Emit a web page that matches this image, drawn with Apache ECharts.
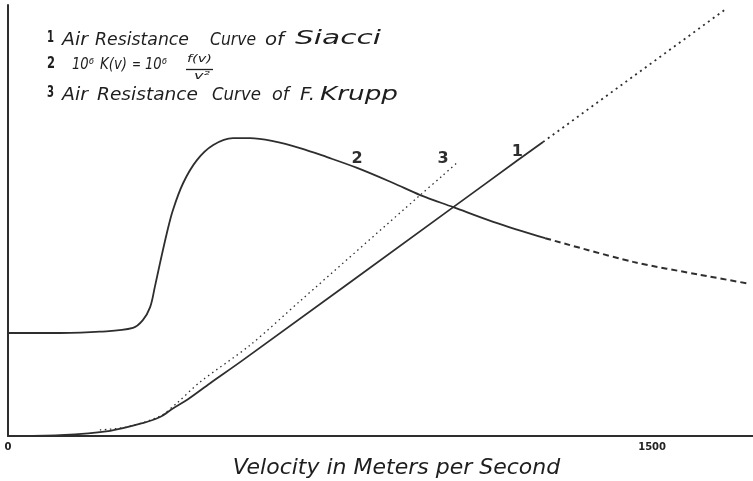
<!DOCTYPE html>
<html>
<head>
<meta charset="utf-8">
<script src="https://cdn.jsdelivr.net/npm/echarts@6/dist/echarts.min.js"></script>
<style>
  html, body { margin: 0; padding: 0; background: #fff; }
  #chart { width: 753px; height: 481px; }
</style>
</head>
<body>
<div id="chart"></div>
<script>
// Velocity (m/s) and relative ordinate (arbitrary units, 0-100)
const curve1Velocity = [0, 121, 238, 314, 354, 384, 420, 470, 547, 1037, 1186, 1246];
const curve1Values   = [0, 0.2, 1.2, 3.0, 4.4, 6.4, 8.6, 12.2, 17.6, 53.1, 63.9, 68.2];
const curve1ExtVelocity = [1246, 1675];
const curve1ExtValues   = [68.2, 99.3];
const curve1LabelIndex = 10;

const curve2Velocity = [0, 121, 214, 291, 314, 331, 342, 354, 370, 384, 408, 440, 478, 524, 564, 617, 680, 743, 813, 897, 960, 1037, 1130, 1251];
const curve2Values   = [23.9, 23.9, 24.2, 25.1, 26.9, 29.9, 34.6, 40.1, 47.1, 52.4, 58.7, 64.0, 67.5, 69.1, 69.1, 68.4, 66.8, 64.7, 62.2, 58.7, 55.9, 53.1, 49.7, 45.9];
const curve2ExtVelocity = [1251, 1456, 1612, 1728];
const curve2ExtValues   = [45.9, 40.4, 37.4, 35.3];
const curve2LabelIndex = 18;

const curve3Velocity = [214, 277, 354, 394, 447, 564, 680, 960, 1013, 1048];
const curve3Values   = [1.4, 2.1, 4.6, 7.7, 12.5, 21.1, 31.3, 55.9, 60.5, 63.6];
const curve3LabelIndex = 8;

const curveNames = ['1', '2', '3'];
const xTickLabels = ['0', '1500'];
const legendLine1Words = ['1', 'Air', 'Resistance', 'Curve', 'of', 'Siacci'];
const legendLine2Words = ['2', '10\u2076', 'K(v)', '=', '10\u2076'];
const legendLine3Words = ['3', 'Air', 'Resistance', 'Curve', 'of', 'F.', 'Krupp'];
const fractionTop = 'f(v)';
const fractionBottom = 'v\u00b2';
const xAxisTitle = 'Velocity in Meters per Second';

const ink = '#2e2e2e';
const textInk = '#1e1e1e';
const hand = '"DejaVu Sans", sans-serif';

function pairs(xs, ys, labelIdx, labelText, dist) {
  return xs.map((x, i) => {
    if (i === labelIdx) {
      return {
        value: [x, ys[i]],
        label: {
          show: true, formatter: labelText, position: 'top', distance: dist,
          fontFamily: hand, fontWeight: 'bold', fontSize: 16, color: ink
        }
      };
    }
    return [x, ys[i]];
  });
}

// hand-lettered legend: each word stretched to its span in the picture
const measureCtx = document.createElement('canvas').getContext('2d');
function word(text, x0, x1, top, font) {
  measureCtx.font = font;
  const w = measureCtx.measureText(text).width || 1;
  return {
    type: 'text', x: x0, y: top, scaleX: (x1 - x0) / w, scaleY: 1, silent: true,
    style: { text: text, font: font, fill: textInk, align: 'left', verticalAlign: 'top' }
  };
}
const bigFont = 'italic 18px ' + hand;
const wideFont = 'italic 20px ' + hand;
const numFont = 'bold 15px ' + hand;
const midFont = 'italic 16px ' + hand;
const smallFont = 'italic 11px ' + hand;

const line1Spans = [[47, 54], [62, 88], [95, 189], [210, 256], [265, 284], [295, 381]];
const line2Spans = [[47, 55], [72, 94], [100, 127], [132, 141], [145, 167]];
const line3Spans = [[47, 54], [62, 88], [97, 198], [212, 261], [272, 289], [300, 315], [320, 398]];

const graphics = [];
legendLine1Words.forEach((w, i) => graphics.push(
  word(w, line1Spans[i][0], line1Spans[i][1], i === 5 ? 29 : 31,
       i === 0 ? numFont : (i === 5 ? wideFont : bigFont))));
legendLine2Words.forEach((w, i) => graphics.push(
  word(w, line2Spans[i][0], line2Spans[i][1], 57, i === 0 ? numFont : midFont)));
legendLine3Words.forEach((w, i) => graphics.push(
  word(w, line3Spans[i][0], line3Spans[i][1], i === 6 ? 85 : 86,
       i === 0 ? numFont : (i === 6 ? wideFont : bigFont))));
graphics.push(word(fractionTop, 187, 212, 54, smallFont));
graphics.push({ type: 'line', silent: true, shape: { x1: 186, y1: 69.5, x2: 213, y2: 69.5 },
  style: { stroke: textInk, lineWidth: 1.3 } });
graphics.push(word(fractionBottom, 194, 210, 71, smallFont));

const lineSeries = (extra) => Object.assign({
  type: 'line', symbol: 'circle', symbolSize: 0, showSymbol: true, showAllSymbol: true,
  emphasis: { disabled: true }, silent: true
}, extra);

const chart = echarts.init(document.getElementById('chart'));
chart.setOption({
  animation: false,
  backgroundColor: '#fff',
  grid: { left: 8, right: 0, top: 5, bottom: 45, outerBoundsMode: 'none', containLabel: false },
  xAxis: {
    type: 'value', min: 0, max: 1735, interval: 1500,
    axisLine: { show: true, lineStyle: { color: ink, width: 2 } },
    axisTick: { show: false },
    splitLine: { show: false },
    axisLabel: {
      showMaxLabel: false, margin: 6,
      fontFamily: hand, fontWeight: 'bold', fontSize: 10, color: '#222',
      formatter: v => (xTickLabels.indexOf(String(v)) >= 0 ? String(v) : '')
    },
    name: xAxisTitle, nameLocation: 'middle', nameGap: 17,
    nameTextStyle: { fontFamily: hand, fontStyle: 'italic', fontSize: 22, color: textInk,
      padding: [0, 0, 0, 32] }
  },
  yAxis: {
    type: 'value', min: 0, max: 100,
    axisLine: { show: true, lineStyle: { color: ink, width: 2 } },
    axisTick: { show: false },
    axisLabel: { show: false },
    splitLine: { show: false }
  },
  series: [
    lineSeries({
      name: curveNames[0], smooth: 0.3,
      lineStyle: { color: ink, width: 1.8 },
      data: pairs(curve1Velocity, curve1Values, curve1LabelIndex, curveNames[0], 1)
    }),
    lineSeries({
      lineStyle: { color: ink, width: 1.8, type: [2, 4] },
      data: pairs(curve1ExtVelocity, curve1ExtValues, -1, '', 0)
    }),
    lineSeries({
      name: curveNames[1], smooth: 0.35,
      lineStyle: { color: ink, width: 1.8 },
      data: pairs(curve2Velocity, curve2Values, curve2LabelIndex, curveNames[1], 1)
    }),
    lineSeries({
      smooth: 0.3,
      lineStyle: { color: ink, width: 2, type: [6, 4] },
      data: pairs(curve2ExtVelocity, curve2ExtValues, -1, '', 0)
    }),
    lineSeries({
      name: curveNames[2], smooth: 0.3,
      lineStyle: { color: ink, width: 1.3, type: [1.5, 3.5] },
      data: pairs(curve3Velocity, curve3Values, curve3LabelIndex, curveNames[2], 8)
    })
  ],
  graphic: graphics
});
</script>
</body>
</html>
